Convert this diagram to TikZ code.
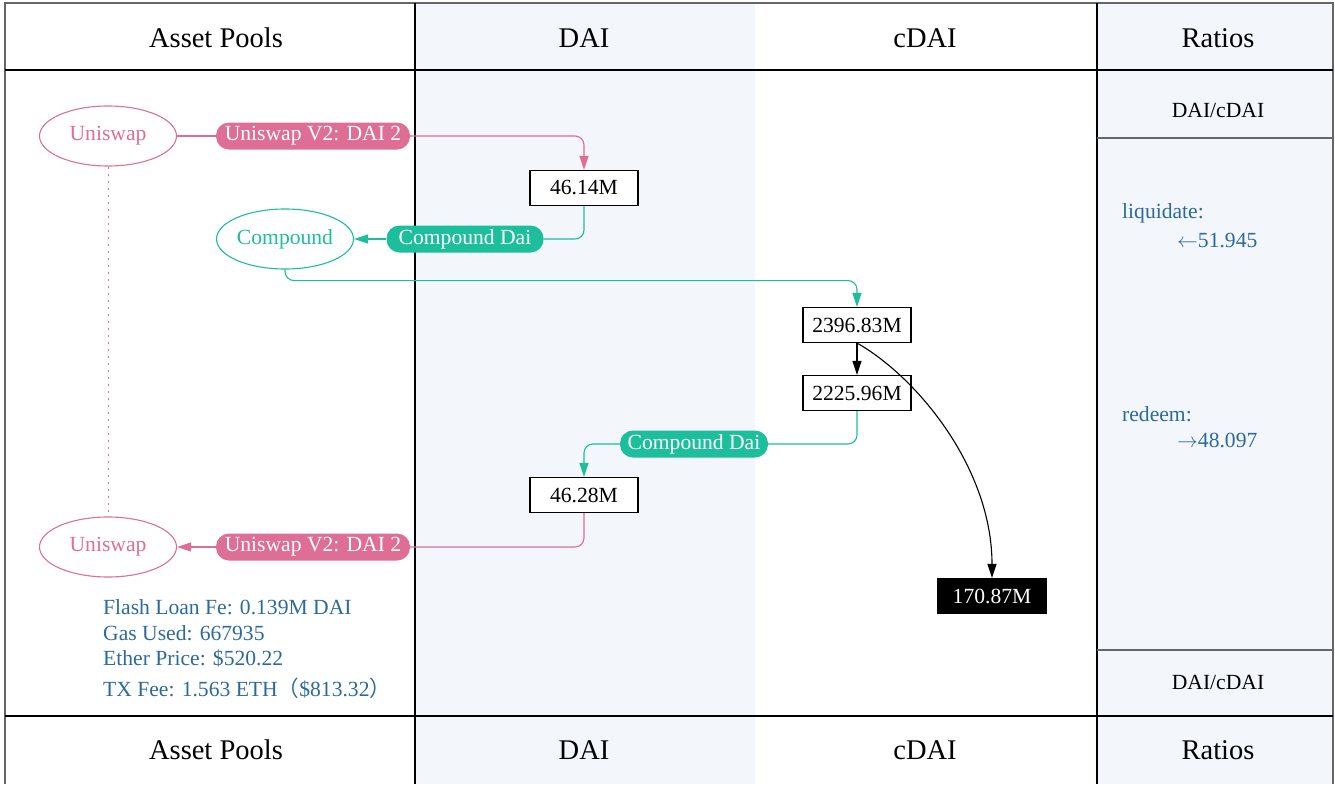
\documentclass[tikz,border=0pt]{standalone}
\usepackage{fontspec}
\setmainfont{Liberation Serif}
\newfontfamily\cjk{Noto Sans CJK SC}
\usetikzlibrary{shapes.geometric,arrows.meta}
\definecolor{pinkc}{HTML}{DE6E94}
\definecolor{tealc}{HTML}{1DBE9B}
\definecolor{bluet}{HTML}{2C6A9B}
\definecolor{colbg}{HTML}{F3F6FB}
\definecolor{gridc}{HTML}{666666}
\begin{document}
\begin{tikzpicture}[x=1pt,y=-1pt,
 body/.style={font=\fontsize{21.6}{26}\selectfont},
 head/.style={font=\fontsize{28.5}{34}\selectfont},
 pool/.style={ellipse,draw,line width=1.1pt,minimum width=137pt,minimum height=60pt,inner sep=0pt,body},
 amount/.style={draw,line width=1.1pt,minimum width=108pt,minimum height=35pt,inner sep=0pt,body},
 pill/.style={rounded corners=13pt,minimum height=27pt,minimum width=#1,inner xsep=0pt,inner ysep=0pt,text=white,body},
 info/.style={anchor=west,inner sep=0pt,text=bluet,body},
 edge/.style={line width=1.1pt,rounded corners=9pt,-{Triangle[length=14pt,width=9pt]}},
 plain/.style={line width=1.1pt,rounded corners=9pt},
 grid/.style={line width=1.6pt,black},
 frame/.style={line width=1.6pt,gridc},
]
\useasboundingbox (0,0) rectangle (1335,784);
% column backgrounds
\fill[colbg] (415,3) rectangle (755,784);
\fill[colbg] (1097,3) rectangle (1333,784);
% frame and grid
\draw[frame] (5,784) -- (5,3) -- (1333,3) -- (1333,784);
\draw[grid] (5,70) -- (1333,70);
\draw[grid] (5,716) -- (1333,716);
\draw[grid] (415,3) -- (415,784);
\draw[grid] (1097,3) -- (1097,784);
\draw[frame] (1097,138) -- (1333,138);
\draw[frame] (1097,650) -- (1333,650);
% headers
\node[head] (h1) at (216,38) {Asset Pools};
\node[head] (h2) at (584,38) {DAI};
\node[head] (h3) at (925,38) {cDAI};
\node[head] (h4) at (1218,38) {Ratios};
\node[head] (f1) at (216,750) {Asset Pools};
\node[head] (f2) at (584,750) {DAI};
\node[head] (f3) at (925,750) {cDAI};
\node[head] (f4) at (1218,750) {Ratios};
\node[body] (r1) at (1218,110) {DAI/cDAI};
\node[body] (r2) at (1218,682) {DAI/cDAI};
% ratios text
\node[info] (liq) at (1122,213) {liquidate:};
\node[info] (liqv) at (1177,240) {$\leftarrow$51.945};
\node[info] (red) at (1122,414) {redeem:};
\node[info] (redv) at (1177,440) {$\rightarrow$48.097};
% pools
\node[pool,pinkc] (u1) at (108,136) {Uniswap};
\node[pool,tealc] (comp) at (285,239) {Compound};
\node[pool,pinkc] (u2) at (108,547) {Uniswap};
% amounts
\node[amount,fill=white] (n1) at (584,188) {46.14M};
\node[amount,fill=white] (n2) at (857,325) {2396.83M};
\node[amount,fill=white] (n3) at (857,393) {2225.96M};
\node[amount,fill=white] (n5) at (584,495) {46.28M};
\node[amount,fill=black,text=white] (n4) at (992,596) {170.87M};
% labels
\node[pill=194pt,fill=pinkc] (l1) at (313,136) {Uniswap V2: DAI 2};
\node[pill=157pt,fill=tealc] (l2) at (465,239) {Compound Dai};
\node[pill=148pt,fill=tealc] (l3) at (694,444) {Compound Dai};
\node[pill=194pt,fill=pinkc] (l4) at (313,547) {Uniswap V2: DAI 2};
% edges
\draw[pinkc,line width=1pt,dash pattern=on 2pt off 5pt] (u1) -- (u2);
\draw[plain,pinkc] (u1) -- (l1);
\draw[edge,pinkc] (l1.east) -| (n1.north);
\draw[plain,tealc] (n1.south) |- (l2.east);
\draw[edge,tealc] (l2) -- (comp);
\draw[edge,tealc] (comp.south) -- ++(0,11) -| (n2.north);
\draw[edge,black] (n2) -- (n3);
\draw[edge,black] (n2.south) .. controls +(60,34) and +(0,-110) .. (n4.north);
\draw[plain,tealc] (n3.south) |- (l3.east);
\draw[edge,tealc] (l3.west) -| (n5.north);
\draw[plain,pinkc] (n5.south) |- (l4.east);
\draw[edge,pinkc] (l4) -- (u2);
% info text
\node[info] (i1) at (103,607) {Flash Loan Fe: 0.139M DAI};
\node[info] (i2) at (103,633) {Gas Used: 667935};
\node[info] (i3) at (103,658) {Ether Price: \$520.22};
\node[info] (i4) at (103,688) {TX Fee: 1.563 ETH{\cjk （}\$813.32{\cjk ）}};
\end{tikzpicture}
\end{document}
